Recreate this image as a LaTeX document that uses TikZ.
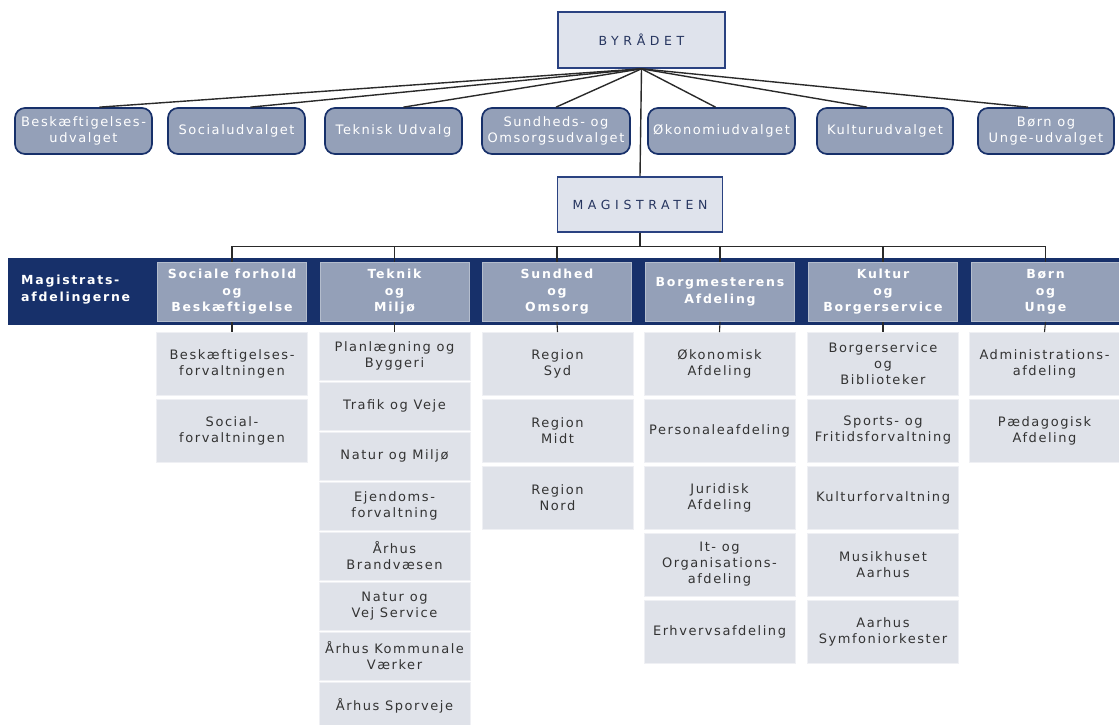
\documentclass[tikz,border=0pt]{standalone}
\usepackage{fontspec}
\setmainfont{DejaVu Sans}
\newfontfamily\cfont[LetterSpace=12]{DejaVu Sans}
\newfontfamily\hfont[LetterSpace=14]{DejaVu Sans}
\newfontfamily\tfont[LetterSpace=37]{DejaVu Sans}
\definecolor{navy}{HTML}{17306A}
\definecolor{steel}{HTML}{94A0B8}
\definecolor{pale}{HTML}{DFE2E9}
\definecolor{topfill}{HTML}{DFE3EC}
\definecolor{edge}{HTML}{2A4281}
\definecolor{toptext}{HTML}{26355F}
\definecolor{subtext}{HTML}{333333}
\definecolor{wirec}{HTML}{2A2A2A}
\tikzset{
  topbox/.style={draw=edge, line width=1.6pt, fill=topfill, minimum width=167pt, minimum height=56pt, inner sep=0pt, text=toptext, font=\tfont\fontsize{12.5}{14}\selectfont},
  committee/.style={draw=navy, line width=1.7pt, fill=steel, rounded corners=10pt, minimum width=137pt, minimum height=46pt, inner sep=0pt, align=center, text=white, font=\cfont\fontsize{13}{16}\selectfont},
  header/.style={fill=steel, draw=steel!70!white, line width=0.8pt, minimum width=149pt, minimum height=59pt, inner sep=0pt, align=center, text=white, font=\hfont\bfseries\fontsize{12.5}{16.5}\selectfont},
  unit/.style={fill=pale, draw=pale!50!white, line width=0.8pt, minimum width=151pt, inner sep=0pt, align=center, text=subtext, font=\cfont\fontsize{13}{16}\selectfont},
  tall/.style={unit, minimum height=63pt},
  short/.style={unit, minimum height=48pt},
  wire/.style={draw=wirec, line width=1.4pt}
}
\begin{document}
\begin{tikzpicture}[x=1pt,y=-1pt]
\useasboundingbox (0,0) rectangle (1119,724);
% top
\node[topbox] (byr) at (641.5,40) {BYRÅDET};
\node[topbox, minimum width=165pt, minimum height=55pt] (mag) at (640,204.5) {MAGISTRATEN};
% committees
\node[committee] (k1) at (83.5,131) {Beskæftigelses-\\udvalget};
\node[committee] (k2) at (236.5,131) {Socialudvalget};
\node[committee] (k3) at (393.5,131) {Teknisk Udvalg};
\node[committee, minimum width=148pt] (k4) at (556,131) {Sundheds- og\\Omsorgsudvalget};
\node[committee, minimum width=147pt] (k5) at (721.5,131) {Økonomiudvalget};
\node[committee, minimum width=136pt] (k6) at (885,131) {Kulturudvalget};
\node[committee, minimum width=136pt] (k7) at (1046,131) {Børn og\\Unge-udvalget};
\foreach \k/\dx in {k1/16,k2/14,k3/10,k4/0,k5/-6,k6/-18,k7/-18}
  \draw[wire] (byr.south) -- ([xshift=\dx pt]\k.north);
\draw[wire] (byr.south) -- (mag.north);
% band
\fill[navy] (8,258) rectangle (1125,325);
\node[anchor=west, inner sep=0pt, align=left, text=white, font=\hfont\bfseries\fontsize{12.5}{17}\selectfont] (mlabel) at (21,290) {Magistrats-\\afdelingerne};
% headers
\node[header] (h1) at (232,292) {Sociale forhold\\og\\Beskæftigelse};
\node[header] (h2) at (394.5,292) {Teknik\\og\\Miljø};
\node[header] (h3) at (557,292) {Sundhed\\og\\Omsorg};
\node[header] (h4) at (720,292) {Borgmesterens\\Afdeling};
\node[header] (h5) at (883,292) {Kultur\\og\\Borgerservice};
\node[header] (h6) at (1045.5,292) {Børn\\og\\Unge};
\foreach \h in {h1,h2,h3,h4,h5,h6} \draw[wire, line width=1.1pt] (mag.south) -- ++(0,14) -| (\h.north);
% column 1
\node[tall] (a1) at (232,364) {Beskæftigelses-\\forvaltningen};
\node[tall] (a2) at (232,430.5) {Social-\\forvaltningen};
% column 2
\node[short] (b1) at (394.5,356) {Planlægning og\\Byggeri};
\node[short] (b2) at (394.5,406) {Trafik og Veje};
\node[short] (b3) at (394.5,456) {Natur og Miljø};
\node[short] (b4) at (394.5,506) {Ejendoms-\\forvaltning};
\node[short] (b5) at (394.5,556) {Århus\\Brandvæsen};
\node[short] (b6) at (394.5,606) {Natur og\\Vej Service};
\node[short] (b7) at (394.5,656) {Århus Kommunale\\Værker};
\node[short] (b8) at (394.5,706) {Århus Sporveje};
% column 3
\node[tall] (c1) at (557.5,364) {Region\\Syd};
\node[tall] (c2) at (557.5,430.5) {Region\\Midt};
\node[tall] (c3) at (557.5,497.5) {Region\\Nord};
% column 4
\node[tall] (d1) at (719.5,364) {Økonomisk\\Afdeling};
\node[tall] (d2) at (719.5,430.5) {Personaleafdeling};
\node[tall] (d3) at (719.5,497.5) {Juridisk\\Afdeling};
\node[tall] (d4) at (719.5,564.5) {It- og\\Organisations-\\afdeling};
\node[tall] (d5) at (719.5,631.5) {Erhvervsafdeling};
% column 5
\node[tall] (e1) at (883,364) {Borgerservice\\og\\Biblioteker};
\node[tall] (e2) at (883,430.5) {Sports- og\\Fritidsforvaltning};
\node[tall] (e3) at (883,497.5) {Kulturforvaltning};
\node[tall] (e4) at (883,564.5) {Musikhuset\\Aarhus};
\node[tall] (e5) at (883,631.5) {Aarhus\\Symfoniorkester};
% column 6
\node[tall] (f1) at (1044.5,364) {Administrations-\\afdeling};
\node[tall] (f2) at (1044.5,430.5) {Pædagogisk\\Afdeling};
% sub connectors
\draw[wire, line width=1.1pt] (h1.south) -- (a1.north);
\draw[wire, line width=1.1pt] (h2.south) -- (b1.north);
\draw[wire, line width=1.1pt] (h3.south) -- (c1.north);
\draw[wire, line width=1.1pt] (h4.south) -- (d1.north);
\draw[wire, line width=1.1pt] (h5.south) -- (e1.north);
\draw[wire, line width=1.1pt] (h6.south) -- (f1.north);
\end{tikzpicture}
\end{document}
